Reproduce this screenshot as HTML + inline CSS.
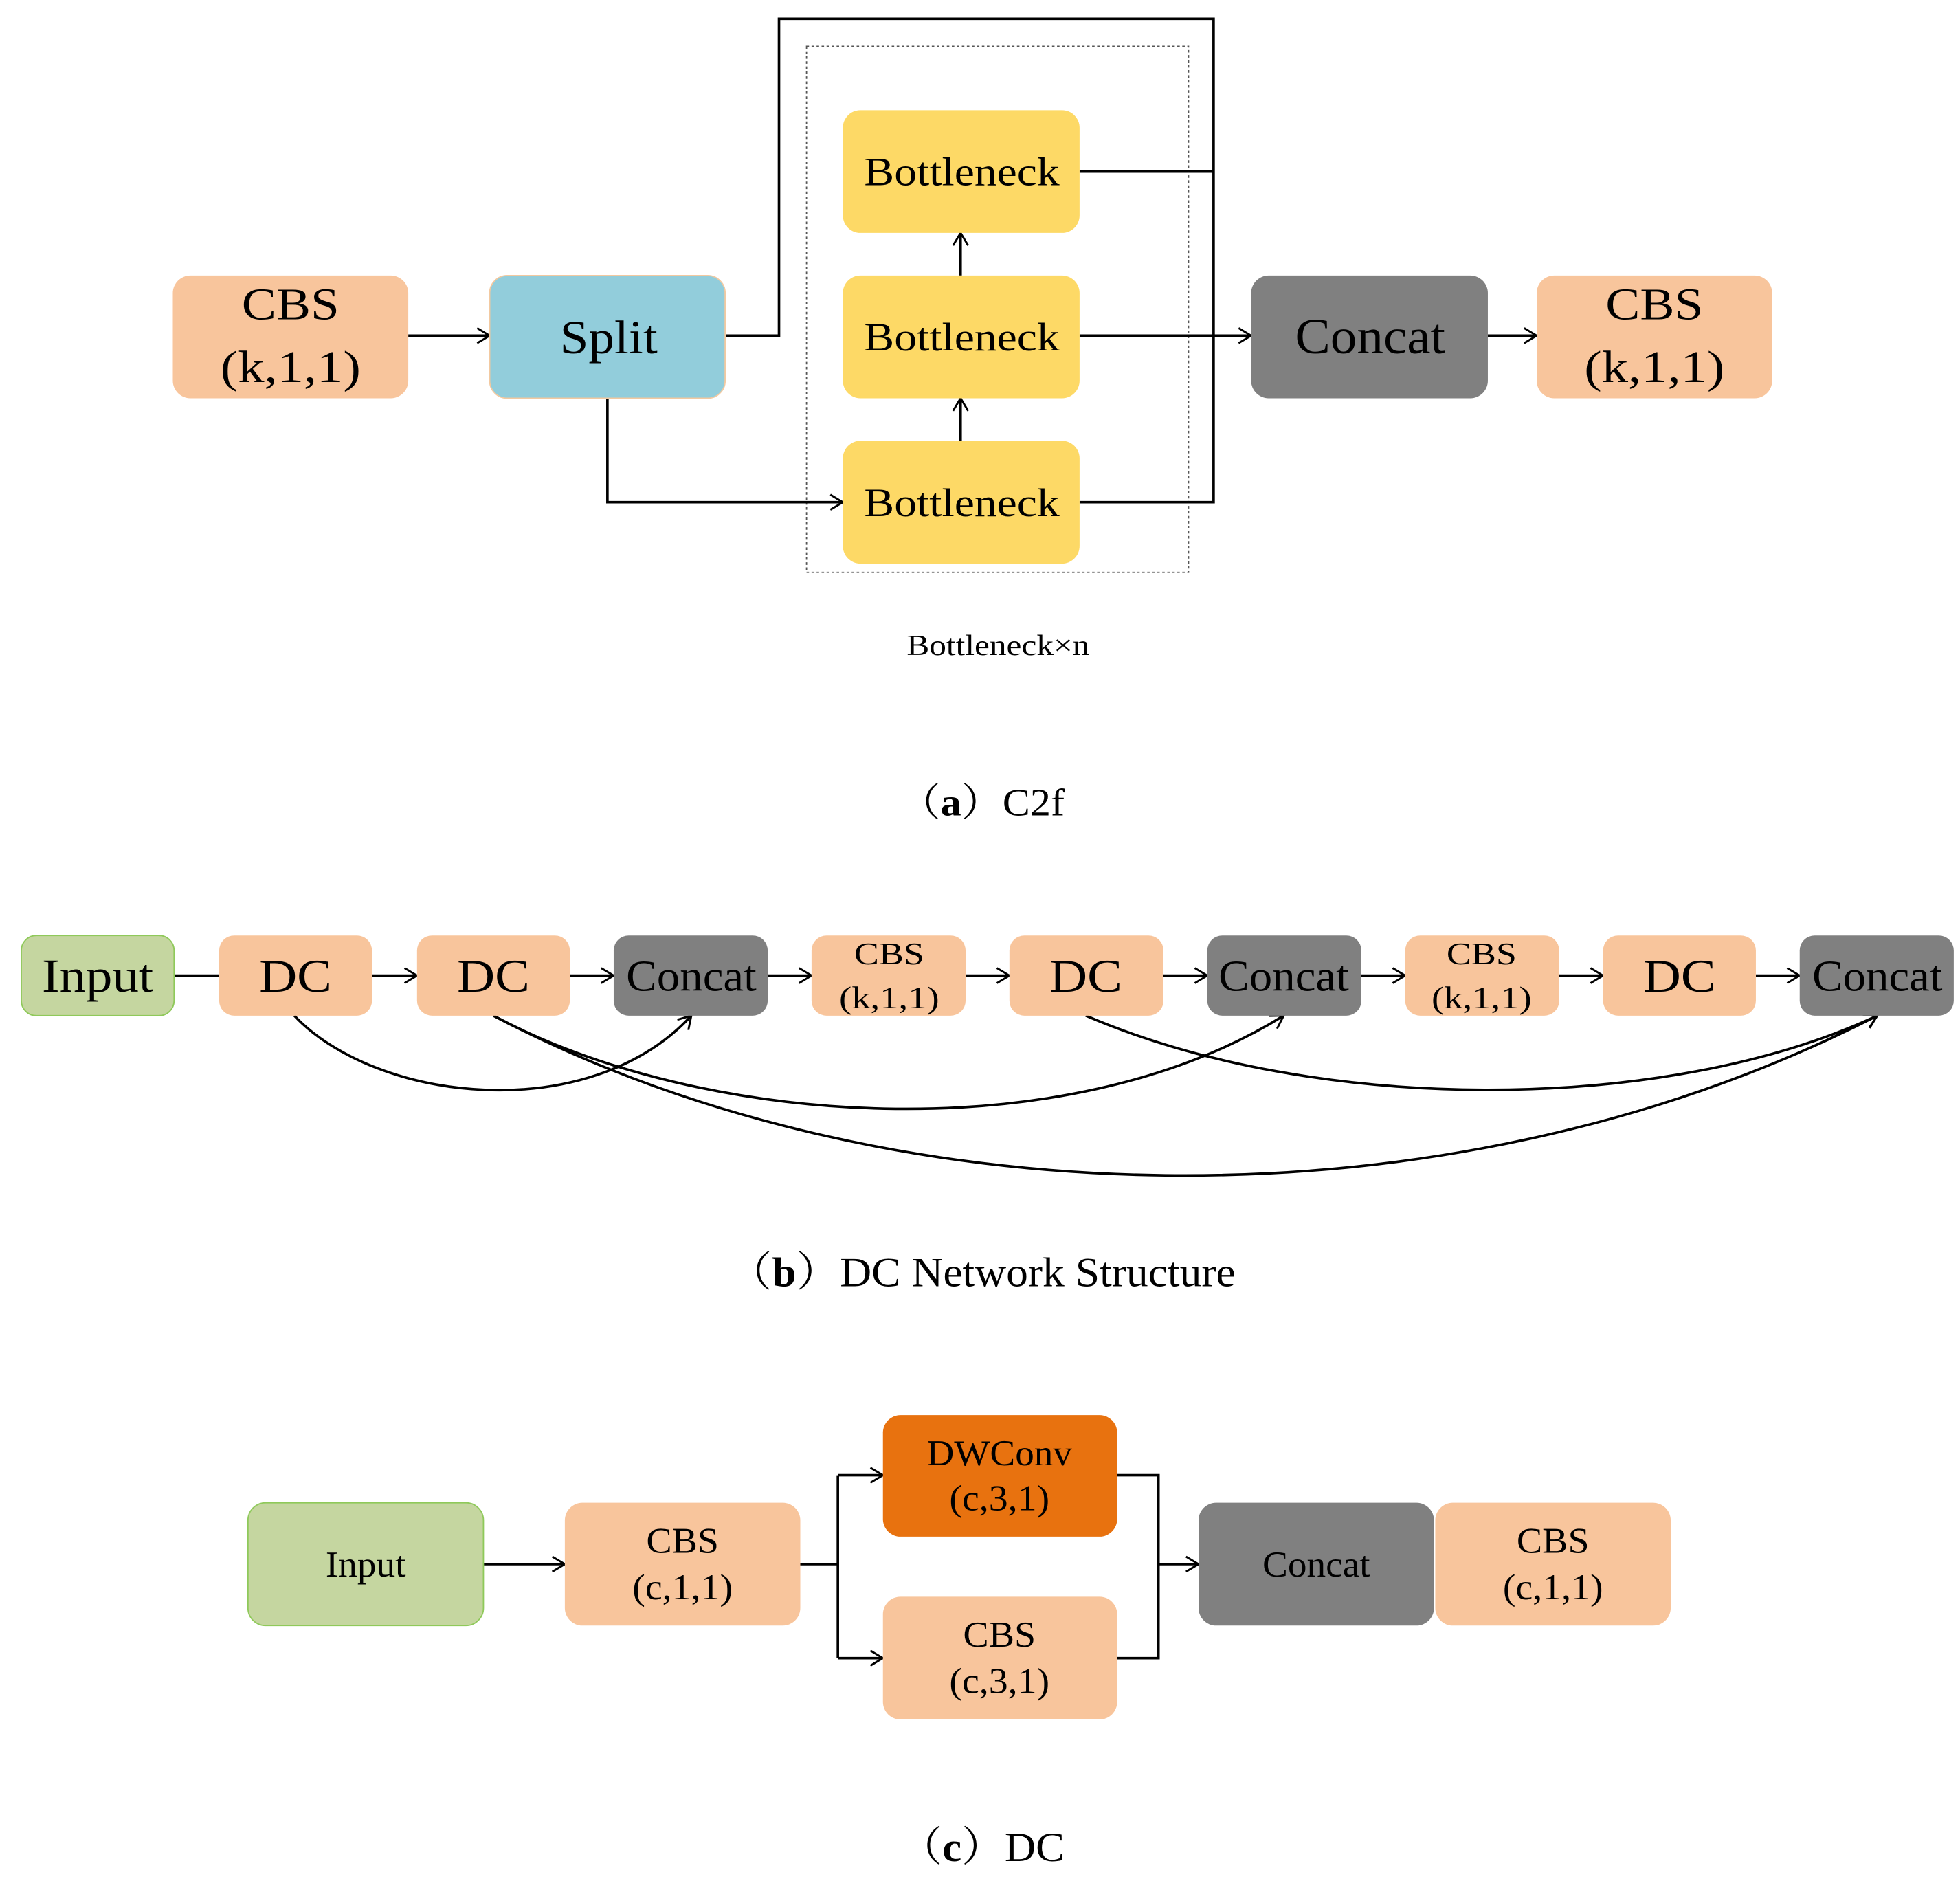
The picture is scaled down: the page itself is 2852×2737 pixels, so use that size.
<!DOCTYPE html>
<html><head><meta charset="utf-8"><style>html,body{margin:0;padding:0;background:#fff}svg{display:block}</style></head>
<body>
<svg width="2852" height="2737" viewBox="0 0 1565 1502" preserveAspectRatio="none" xmlns="http://www.w3.org/2000/svg" font-family="Liberation Serif, 'Noto Serif CJK SC', serif">
<defs>
<marker id="a" markerWidth="12" markerHeight="14" refX="11" refY="7" orient="auto" markerUnits="userSpaceOnUse">
<path d="M1,1 L11,7 L1,13" fill="none" stroke="#000" stroke-width="1.6"/></marker>
</defs>
<g stroke="#000" stroke-width="2" fill="none">
<rect x="644" y="37" width="305" height="420" stroke="#555" stroke-width="1" stroke-dasharray="2,2"/>
<path d="M579,268 H622 V15 H969 V401 H862"/>
<path d="M862,137 H969"/>
<path d="M862,268 H999" marker-end="url(#a)"/>
<path d="M485,318 V401 H673" marker-end="url(#a)"/>
<path d="M326,268 H391" marker-end="url(#a)"/>
<path d="M1188,268 H1227" marker-end="url(#a)"/>
<path d="M767,220 V186" marker-end="url(#a)"/>
<path d="M767,352 V318" marker-end="url(#a)"/>
<path d="M139,779 H175"/>
<path d="M297,779 H333" marker-end="url(#a)"/>
<path d="M455,779 H490" marker-end="url(#a)"/>
<path d="M613,779 H648" marker-end="url(#a)"/>
<path d="M771,779 H806" marker-end="url(#a)"/>
<path d="M929,779 H964" marker-end="url(#a)"/>
<path d="M1087,779 H1122" marker-end="url(#a)"/>
<path d="M1245,779 H1280" marker-end="url(#a)"/>
<path d="M1402,779 H1437" marker-end="url(#a)"/>
<path d="M235,811 C300,880 470,900 552,811" marker-end="url(#a)"/>
<path d="M394,811 C560,900 850,920 1025,811" marker-end="url(#a)"/>
<path d="M394,811 C700,972 1150,990 1499,811" marker-end="url(#a)"/>
<path d="M867,811 C1050,890 1330,890 1499,811" marker-end="url(#a)"/>
<path d="M386,1249 H451" marker-end="url(#a)"/>
<path d="M639,1249 H669 M669,1178 V1324"/>
<path d="M669,1178 H705" marker-end="url(#a)"/>
<path d="M669,1324 H705" marker-end="url(#a)"/>
<path d="M892,1178 H925 V1324 H892"/>
<path d="M925,1249 H957" marker-end="url(#a)"/>
</g>
<g>
<rect x="138" y="220" width="188" height="98" rx="14" fill="#f8c59c"/>
<rect x="391" y="220" width="188" height="98" rx="14" fill="#92cddb" stroke="#f3c9a0" stroke-width="1"/>
<rect x="673" y="88" width="189" height="98" rx="14" fill="#fdd966"/>
<rect x="673" y="220" width="189" height="98" rx="14" fill="#fdd966"/>
<rect x="673" y="352" width="189" height="98" rx="14" fill="#fdd966"/>
<rect x="999" y="220" width="189" height="98" rx="14" fill="#808080"/>
<rect x="1227" y="220" width="188" height="98" rx="14" fill="#f8c59c"/>
<rect x="17" y="747" width="122" height="64" rx="12" fill="#c5d6a0" stroke="#8fc95a" stroke-width="1"/>
<rect x="175" y="747" width="122" height="64" rx="12" fill="#f8c59c"/>
<rect x="333" y="747" width="122" height="64" rx="12" fill="#f8c59c"/>
<rect x="490" y="747" width="123" height="64" rx="12" fill="#808080"/>
<rect x="648" y="747" width="123" height="64" rx="12" fill="#f8c59c"/>
<rect x="806" y="747" width="123" height="64" rx="12" fill="#f8c59c"/>
<rect x="964" y="747" width="123" height="64" rx="12" fill="#808080"/>
<rect x="1122" y="747" width="123" height="64" rx="12" fill="#f8c59c"/>
<rect x="1280" y="747" width="122" height="64" rx="12" fill="#f8c59c"/>
<rect x="1437" y="747" width="123" height="64" rx="12" fill="#808080"/>
<rect x="198" y="1200" width="188" height="98" rx="14" fill="#c5d6a0" stroke="#8fc95a" stroke-width="1"/>
<rect x="451" y="1200" width="188" height="98" rx="14" fill="#f8c59c"/>
<rect x="705" y="1130" width="187" height="97" rx="14" fill="#e8720f"/>
<rect x="705" y="1275" width="187" height="98" rx="14" fill="#f8c59c"/>
<rect x="957" y="1200" width="188" height="98" rx="14" fill="#808080"/>
<rect x="1146" y="1200" width="188" height="98" rx="14" fill="#f8c59c"/>
</g>
<g text-anchor="middle" fill="#000" lengthAdjust="spacingAndGlyphs">
<text x="232" y="255" font-size="36" textLength="78" lengthAdjust="spacingAndGlyphs">CBS</text>
<text x="232" y="305" font-size="36" textLength="112" lengthAdjust="spacingAndGlyphs">(k,1,1)</text>
<text x="486" y="282" font-size="38" textLength="78" lengthAdjust="spacingAndGlyphs">Split</text>
<text x="768" y="148" font-size="32" textLength="156" lengthAdjust="spacingAndGlyphs">Bottleneck</text>
<text x="768" y="280" font-size="32" textLength="156" lengthAdjust="spacingAndGlyphs">Bottleneck</text>
<text x="768" y="412" font-size="32" textLength="156" lengthAdjust="spacingAndGlyphs">Bottleneck</text>
<text x="1094" y="282" font-size="40" textLength="120" lengthAdjust="spacingAndGlyphs">Concat</text>
<text x="1321" y="255" font-size="36" textLength="78" lengthAdjust="spacingAndGlyphs">CBS</text>
<text x="1321" y="305" font-size="36" textLength="112" lengthAdjust="spacingAndGlyphs">(k,1,1)</text>
<text x="797" y="523" font-size="23" textLength="146" lengthAdjust="spacingAndGlyphs">Bottleneck×n</text>
<text x="784" y="651" font-size="31" textLength="132" lengthAdjust="spacingAndGlyphs">（<tspan font-weight="bold">a</tspan>）C2f</text>
<text x="78" y="792" font-size="38" textLength="89" lengthAdjust="spacingAndGlyphs">Input</text>
<text x="236" y="792" font-size="37" textLength="58" lengthAdjust="spacingAndGlyphs">DC</text>
<text x="394" y="792" font-size="37" textLength="58" lengthAdjust="spacingAndGlyphs">DC</text>
<text x="552" y="791" font-size="35" textLength="104" lengthAdjust="spacingAndGlyphs">Concat</text>
<text x="710" y="770" font-size="25" textLength="56" lengthAdjust="spacingAndGlyphs">CBS</text>
<text x="710" y="805" font-size="25" textLength="80" lengthAdjust="spacingAndGlyphs">(k,1,1)</text>
<text x="867" y="792" font-size="37" textLength="58" lengthAdjust="spacingAndGlyphs">DC</text>
<text x="1025" y="791" font-size="35" textLength="104" lengthAdjust="spacingAndGlyphs">Concat</text>
<text x="1183" y="770" font-size="25" textLength="56" lengthAdjust="spacingAndGlyphs">CBS</text>
<text x="1183" y="805" font-size="25" textLength="80" lengthAdjust="spacingAndGlyphs">(k,1,1)</text>
<text x="1341" y="792" font-size="37" textLength="58" lengthAdjust="spacingAndGlyphs">DC</text>
<text x="1499" y="791" font-size="35" textLength="104" lengthAdjust="spacingAndGlyphs">Concat</text>
<text x="784" y="1027" font-size="33" textLength="405" lengthAdjust="spacingAndGlyphs">（<tspan font-weight="bold">b</tspan>）DC Network Structure</text>
<text x="292" y="1259" font-size="29" textLength="64" lengthAdjust="spacingAndGlyphs">Input</text>
<text x="545" y="1240" font-size="29" textLength="58" lengthAdjust="spacingAndGlyphs">CBS</text>
<text x="545" y="1277" font-size="29" textLength="80" lengthAdjust="spacingAndGlyphs">(c,1,1)</text>
<text x="798" y="1170" font-size="29" textLength="116" lengthAdjust="spacingAndGlyphs">DWConv</text>
<text x="798" y="1206" font-size="29" textLength="80" lengthAdjust="spacingAndGlyphs">(c,3,1)</text>
<text x="798" y="1315" font-size="29" textLength="58" lengthAdjust="spacingAndGlyphs">CBS</text>
<text x="798" y="1352" font-size="29" textLength="80" lengthAdjust="spacingAndGlyphs">(c,3,1)</text>
<text x="1051" y="1259" font-size="29" textLength="86" lengthAdjust="spacingAndGlyphs">Concat</text>
<text x="1240" y="1240" font-size="29" textLength="58" lengthAdjust="spacingAndGlyphs">CBS</text>
<text x="1240" y="1277" font-size="29" textLength="80" lengthAdjust="spacingAndGlyphs">(c,1,1)</text>
<text x="784" y="1486" font-size="33" textLength="132" lengthAdjust="spacingAndGlyphs">（<tspan font-weight="bold">c</tspan>）DC</text>
</g>
</svg>
</body></html>
